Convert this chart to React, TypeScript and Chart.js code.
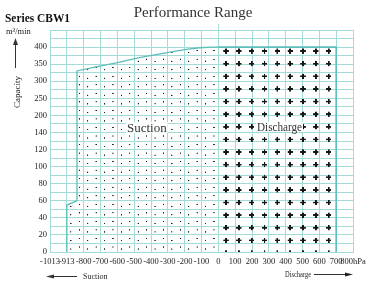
import React, { useEffect, useRef } from 'react';
import { Chart, registerables } from 'chart.js';

Chart.register(...registerables);

// ---- data ----
const xTickValues = [-1013, -913, -800, -700, -600, -500, -400, -300, -200, -100, 0, 100, 200, 300, 400, 500, 600, 700, 800];
const xTickLabels = ['-1013', '-913', '-800', '-700', '-600', '-500', '-400', '-300', '-200', '-100', '0', '100', '200', '300', '400', '500', '600', '700', '800hPa'];
const yTickValues = [0, 20, 40, 60, 80, 100, 120, 140, 200, 250, 300, 350, 400];
const yTickLabels = ['0', '20', '40', '60', '80', '100', '120', '140', '200', '250', '300', '350', '400'];

const suctionPressure = [-913, -913, -845, -845, -720, -592, -470, -346, -270, -192, -110, -40, 0];
const suctionCapacity = [0, 55, 60, 330, 343, 355, 369, 380, 387, 393, 398, 400, 400];
const dischargePressure = [0, 700, 700];
const dischargeCapacity = [400, 400, 0];

const GRID = '#a3dbd6';
const EDGE = '#5cbfba';
const SERIF = "'Liberation Serif', 'Times New Roman', serif";

function toIndex(values: number[], v: number): number {
  for (let i = 0; i < values.length - 1; i++) {
    if (v <= values[i + 1] || i === values.length - 2) {
      return i + (v - values[i]) / (values[i + 1] - values[i]);
    }
  }
  return 0;
}

function toPoints(xs: number[], ys: number[]) {
  return xs.map((p, i) => ({ x: toIndex(xTickValues, p), y: toIndex(yTickValues, ys[i]) }));
}

function makeTile(w: number, h: number, draw: (g: CanvasRenderingContext2D) => void) {
  const s = 4;
  const c = document.createElement('canvas');
  c.width = Math.max(1, Math.round(w * s));
  c.height = Math.max(1, Math.round(h * s));
  const g = c.getContext('2d') as CanvasRenderingContext2D;
  g.scale(c.width / w, c.height / h);
  draw(g);
  return c;
}

function makePattern(chart: any, tile: HTMLCanvasElement, ox: number, oy: number, w: number, h: number) {
  const p = chart.ctx.createPattern(tile, 'repeat');
  if (p && (p as any).setTransform) {
    p.setTransform(new DOMMatrix().translate(ox, oy).scale(w / tile.width, h / tile.height));
  }
  return p;
}

function suctionPattern(chart: any) {
  const area = chart.chartArea;
  const xs = chart.scales.x;
  const ys = chart.scales.y;
  const w = Math.abs(xs.getPixelForValue(1) - xs.getPixelForValue(0));
  const h = Math.abs(ys.getPixelForValue(0) - ys.getPixelForValue(0.5));
  const tile = makeTile(w, h, (g) => {
    g.fillStyle = '#1e1e1e';
    g.beginPath();
    g.arc(w * 0.24, h - 3, 0.65, 0, Math.PI * 2);
    g.fill();
    g.beginPath();
    g.arc(w * 0.74, h - 5, 0.65, 0, Math.PI * 2);
    g.fill();
  });
  return makePattern(chart, tile, area.left, area.top, w, h);
}

function dischargePattern(chart: any) {
  const xs = chart.scales.x;
  const ys = chart.scales.y;
  const w = 12.83;
  const h = 12.62;
  const tile = makeTile(w, h, (g) => {
    g.fillStyle = '#151515';
    const cx = w / 2, cy = h / 2, a = 2.6, t = 0.85;
    g.fillRect(cx - a, cy - t, 2 * a, 2 * t);
    g.fillRect(cx - t, cy - a, 2 * t, 2 * a);
  });
  const ox = xs.getPixelForValue(toIndex(xTickValues, 0)) + 7.7 - w / 2;
  const oy = ys.getPixelForValue(toIndex(yTickValues, 400)) + 4 - h / 2;
  return makePattern(chart, tile, ox, oy, w, h);
}

const patternMakers = [suctionPattern, dischargePattern];

const patternFillPlugin = {
  id: 'patternFill',
  beforeDatasetsDraw(chart: any) {
    const ctx = chart.ctx as CanvasRenderingContext2D;
    const area = chart.chartArea;
    const y0 = chart.scales.y.getPixelForValue(0);
    chart.data.datasets.forEach((_ds: any, i: number) => {
      const meta = chart.getDatasetMeta(i);
      const pts = meta.data as any[];
      if (!pts || !pts.length) return;
      const style = patternMakers[i](chart);
      ctx.save();
      ctx.beginPath();
      ctx.rect(area.left, area.top, area.right - area.left, area.bottom - area.top);
      ctx.clip();
      ctx.beginPath();
      ctx.moveTo(pts[0].x, y0);
      pts.forEach((p) => ctx.lineTo(p.x, p.y));
      ctx.lineTo(pts[pts.length - 1].x, y0);
      ctx.closePath();
      ctx.fillStyle = style as any;
      ctx.fill();
      ctx.restore();
    });
  },
};

const decorPlugin = {
  id: 'decor',
  afterDraw(chart: any) {
    const ctx = chart.ctx as CanvasRenderingContext2D;
    const xs = chart.scales.x;
    const area = chart.chartArea;
    ctx.save();

    // zero divider extension above the plot
    const x0 = Math.round(xs.getPixelForValue(toIndex(xTickValues, 0))) + 0.5;
    ctx.strokeStyle = GRID;
    ctx.lineWidth = 1;
    ctx.beginPath();
    ctx.moveTo(x0, 24);
    ctx.lineTo(x0, area.top);
    ctx.stroke();

    // in-plot labels with white backing
    const label = (text: string, x: number, y: number, size: number, maxW: number) => {
      ctx.font = `${size}px ${SERIF}`;
      const m = Math.min(ctx.measureText(text).width, maxW);
      ctx.fillStyle = '#ffffff';
      ctx.fillRect(x - 1, y - size * 0.72, m + 2, size * 0.82);
      ctx.fillStyle = '#333333';
      ctx.textBaseline = 'alphabetic';
      ctx.textAlign = 'left';
      ctx.fillText(text, x, y, maxW);
    };
    label('Suction', 127, 131.5, 13, 40);
    label('Discharge', 257, 130.7, 12.5, 45);

    // titles
    ctx.fillStyle = '#333333';
    ctx.textAlign = 'center';
    ctx.textBaseline = 'alphabetic';
    ctx.font = `15px ${SERIF}`;
    ctx.fillText('Performance Range', 193, 17);

    ctx.fillStyle = '#111111';
    ctx.textAlign = 'left';
    ctx.font = `bold 11.5px ${SERIF}`;
    ctx.fillText('Series CBW1', 5, 21.5, 65);

    ctx.font = `8.5px ${SERIF}`;
    ctx.fillStyle = '#222222';
    ctx.fillText('m³/min', 6, 34, 26);

    // capacity arrow + label
    ctx.strokeStyle = '#333333';
    ctx.fillStyle = '#333333';
    ctx.lineWidth = 1;
    ctx.beginPath();
    ctx.moveTo(15.5, 68);
    ctx.lineTo(15.5, 43);
    ctx.stroke();
    ctx.beginPath();
    ctx.moveTo(15.5, 38);
    ctx.lineTo(13, 45);
    ctx.lineTo(18, 45);
    ctx.closePath();
    ctx.fill();

    ctx.save();
    ctx.translate(19.5, 92);
    ctx.rotate(-Math.PI / 2);
    ctx.textAlign = 'center';
    ctx.font = `9px ${SERIF}`;
    ctx.fillStyle = '#222222';
    ctx.fillText('Capacity', 0, 0);
    ctx.restore();

    // suction arrow
    ctx.beginPath();
    ctx.moveTo(77, 276.5);
    ctx.lineTo(52, 276.5);
    ctx.stroke();
    ctx.beginPath();
    ctx.moveTo(46, 276.5);
    ctx.lineTo(54, 274.5);
    ctx.lineTo(54, 278.5);
    ctx.closePath();
    ctx.fill();
    ctx.font = `8px ${SERIF}`;
    ctx.fillStyle = '#222222';
    ctx.textAlign = 'left';
    ctx.fillText('Suction', 83, 279, 25);

    // discharge arrow
    ctx.beginPath();
    ctx.moveTo(314, 274.5);
    ctx.lineTo(347, 274.5);
    ctx.stroke();
    ctx.beginPath();
    ctx.moveTo(353, 274.5);
    ctx.lineTo(345, 272.5);
    ctx.lineTo(345, 276.5);
    ctx.closePath();
    ctx.fill();
    ctx.fillText('Discharge', 285, 277, 26);

    ctx.restore();
  },
};

export default function App() {
  const ref = useRef<HTMLCanvasElement | null>(null);

  useEffect(() => {
    document.body.style.margin = '0';
    const canvas = ref.current;
    if (!canvas) return;
    const tickFont = { family: SERIF, size: 8.5 };
    const chart = new Chart(canvas, {
      type: 'line',
      data: {
        datasets: [
          {
            label: 'Suction',
            data: toPoints(suctionPressure, suctionCapacity),
            borderColor: EDGE,
            borderWidth: 1.3,
            pointRadius: 0,
            tension: 0,
            fill: false,
          },
          {
            label: 'Discharge',
            data: toPoints(dischargePressure, dischargeCapacity),
            borderColor: EDGE,
            borderWidth: 1.6,
            pointRadius: 0,
            tension: 0,
            fill: false,
          },
        ],
      },
      options: {
        responsive: false,
        animation: false,
        devicePixelRatio: 1,
        layout: { padding: { left: 0, top: 30, right: 19, bottom: 0 } },
        plugins: { legend: { display: false }, tooltip: { enabled: false }, title: { display: false } },
        scales: {
          x: {
            type: 'linear',
            min: 0,
            max: xTickValues.length - 1,
            afterFit: (s: any) => { s.height = 31; },
            grid: { color: GRID, drawTicks: false, lineWidth: 1 },
            border: { color: GRID },
            ticks: {
              stepSize: 1,
              autoSkip: false,
              maxRotation: 0,
              minRotation: 0,
              padding: 5,
              color: '#222222',
              font: tickFont,
              callback: (v: any) => xTickLabels[Math.round(Number(v))] ?? '',
            },
          },
          y: {
            type: 'linear',
            min: 0,
            max: yTickValues.length,
            afterFit: (s: any) => { s.width = 50; },
            grid: { color: GRID, drawTicks: false, lineWidth: 1 },
            border: { color: GRID },
            ticks: {
              stepSize: 0.5,
              autoSkip: false,
              padding: 3,
              color: '#222222',
              font: tickFont,
              callback: (v: any) => {
                const n = Number(v);
                return Number.isInteger(n) ? (yTickLabels[n] ?? '') : '';
              },
            },
          },
        },
      },
      plugins: [patternFillPlugin, decorPlugin],
    });
    return () => chart.destroy();
  }, []);

  return (
    <div style={{ position: 'absolute', left: 0, top: 0, width: 372, height: 283, background: '#fff' }}>
      <canvas ref={ref} width={372} height={283} style={{ width: 372, height: 283, display: 'block' }} />
    </div>
  );
}
